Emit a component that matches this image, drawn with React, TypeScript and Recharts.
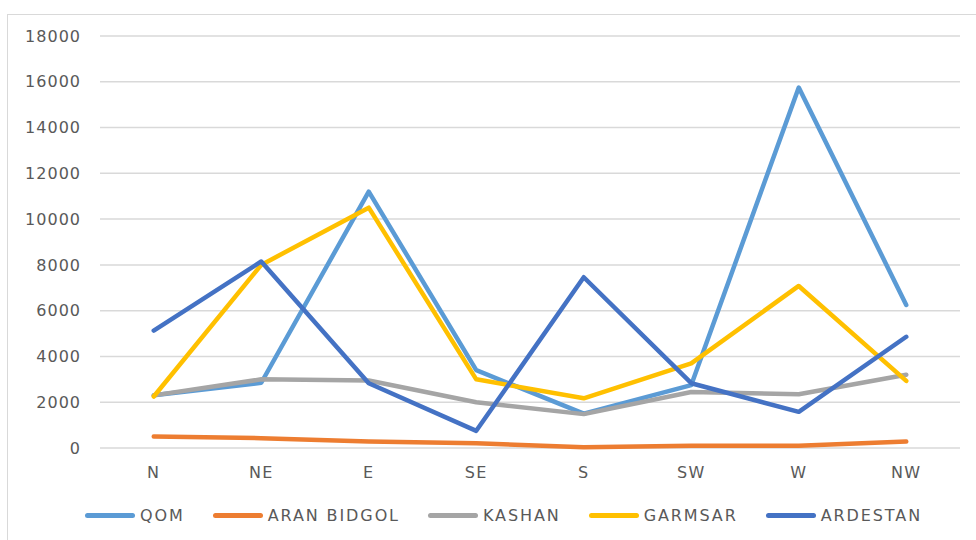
import React from 'react';
import { LineChart, Line, XAxis, YAxis, CartesianGrid } from 'recharts';

const categories = ['N', 'NE', 'E', 'SE', 'S', 'SW', 'W', 'NW'];
const qom = [2300, 2850, 11200, 3400, 1500, 2750, 15750, 6250];
const aranBidgol = [500, 430, 280, 210, 30, 100, 100, 280];
const kashan = [2300, 3000, 2950, 2000, 1480, 2450, 2350, 3200];
const garmsar = [2250, 8000, 10500, 3000, 2170, 3700, 7080, 2930];
const ardestan = [5130, 8150, 2830, 750, 7460, 2830, 1580, 4860];
const yTicks = [0, 2000, 4000, 6000, 8000, 10000, 12000, 14000, 16000, 18000];

const seriesList = [
  { key: 'QOM', values: qom, color: '#5B9BD5' },
  { key: 'ARAN BIDGOL', values: aranBidgol, color: '#ED7D31' },
  { key: 'KASHAN', values: kashan, color: '#A5A5A5' },
  { key: 'GARMSAR', values: garmsar, color: '#FFC000' },
  { key: 'ARDESTAN', values: ardestan, color: '#4472C4' },
];

const data = categories.map((c, i) => {
  const row: Record<string, string | number> = { name: c };
  seriesList.forEach((s) => {
    row[s.key] = s.values[i];
  });
  return row;
});

const FONT = "'DejaVu Sans', sans-serif";

export default function App() {
  return (
    <div style={{ position: 'absolute', left: 0, top: 0, width: 976, height: 540, overflow: 'hidden', background: '#fff' }}>
      <div style={{ position: 'absolute', left: 7, top: 14, width: 1100, height: 700, border: '1px solid #D9D9D9' }} />
      <div style={{ position: 'absolute', left: 0, top: 0 }}>
        <LineChart width={976} height={540} data={data} margin={{ top: 36, right: 16, bottom: 62, left: 0 }}>
          <CartesianGrid vertical={false} stroke="#D9D9D9" strokeWidth={1.5} />
          <XAxis
            dataKey="name"
            height={30}
            axisLine={false}
            tickLine={false}
            tickSize={0}
            tickMargin={19}
            padding={{ left: 53.75, right: 53.75 }}
            tick={{ fill: '#595959', fontSize: 16, fontFamily: FONT, letterSpacing: 1.3 }}
          />
          <YAxis
            width={100}
            domain={[0, 18000]}
            ticks={yTicks}
            axisLine={false}
            tickLine={false}
            tickSize={0}
            tickMargin={19}
            tick={{ fill: '#595959', fontSize: 16, fontFamily: FONT, letterSpacing: 1 }}
          />
          {seriesList.map((s) => (
            <Line
              key={s.key}
              type="linear"
              dataKey={s.key}
              stroke={s.color}
              strokeWidth={4.5}
              strokeLinejoin="round"
              strokeLinecap="round"
              dot={false}
              activeDot={false}
              isAnimationActive={false}
            />
          ))}
        </LineChart>
      </div>
      <div
        style={{
          position: 'absolute',
          left: 85,
          top: 504,
          display: 'flex',
          alignItems: 'center',
          height: 22,
          fontFamily: FONT,
          fontSize: 16,
          letterSpacing: 1.9,
          color: '#595959',
          whiteSpace: 'nowrap',
        }}
      >
        {seriesList.map((s) => (
          <div key={s.key} style={{ display: 'flex', alignItems: 'center', marginRight: 28 }}>
            <div style={{ width: 50, height: 5, background: s.color, borderRadius: 3, marginRight: 5 }} />
            <span>{s.key}</span>
          </div>
        ))}
      </div>
    </div>
  );
}
